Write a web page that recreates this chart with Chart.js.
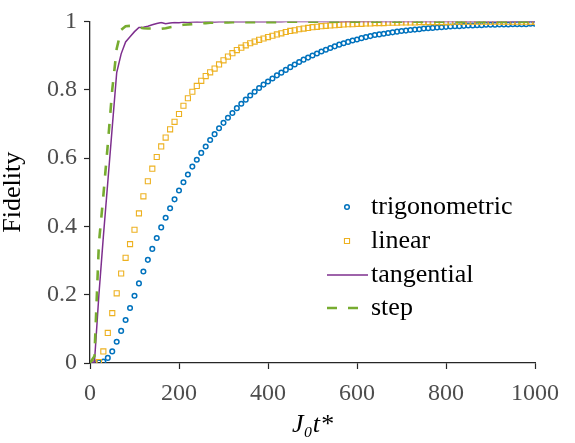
<!DOCTYPE html>
<html>
<head>
<meta charset="utf-8">
<script src="https://cdn.jsdelivr.net/npm/chart.js@4/dist/chart.umd.min.js"></script>
<style>
  html, body { margin: 0; padding: 0; background: #fff; }
  #wrap { width: 575px; height: 443px; }
</style>
</head>
<body>
<div id="wrap"><canvas id="fidelityChart" width="575" height="443"></canvas></div>
<script>
// J0 t* sample times
const times = [
  0, 10, 20, 30, 40, 50, 60, 70, 80, 90,
  100, 110, 120, 130, 140, 150, 160, 170, 180, 190,
  200, 210, 220, 230, 240, 250, 260, 270, 280, 290,
  300, 310, 320, 330, 340, 350, 360, 370, 380, 390,
  400, 410, 420, 430, 440, 450, 460, 470, 480, 490,
  500, 510, 520, 530, 540, 550, 560, 570, 580, 590,
  600, 610, 620, 630, 640, 650, 660, 670, 680, 690,
  700, 710, 720, 730, 740, 750, 760, 770, 780, 790,
  800, 810, 820, 830, 840, 850, 860, 870, 880, 890,
  900, 910, 920, 930, 940, 950, 960, 970, 980, 990, 1000
];

const trigonometric = [
  0, 0.0005, 0.002, 0.004, 0.015, 0.034, 0.062, 0.094, 0.126, 0.161,
  0.197, 0.233, 0.268, 0.302, 0.334, 0.366, 0.397, 0.425, 0.453, 0.479,
  0.505, 0.529, 0.552, 0.575, 0.595, 0.615, 0.634, 0.653, 0.670, 0.687,
  0.703, 0.718, 0.732, 0.746, 0.759, 0.771, 0.783, 0.794, 0.805, 0.815,
  0.824, 0.833, 0.842, 0.850, 0.858, 0.866, 0.874, 0.881, 0.888, 0.894,
  0.900, 0.906, 0.912, 0.917, 0.922, 0.927, 0.932, 0.936, 0.940, 0.944,
  0.947, 0.951, 0.954, 0.957, 0.960, 0.962, 0.964, 0.966, 0.968, 0.970,
  0.972, 0.973, 0.975, 0.976, 0.977, 0.979, 0.980, 0.981, 0.982, 0.983,
  0.984, 0.985, 0.986, 0.986, 0.987, 0.988, 0.988, 0.989, 0.989, 0.990,
  0.990, 0.990, 0.991, 0.991, 0.991, 0.992, 0.992, 0.992, 0.992, 0.993, 0.993
];

const linear = [
  0, 0.0005, 0.003, 0.034, 0.088, 0.146, 0.204, 0.262, 0.308, 0.348,
  0.390, 0.438, 0.488, 0.532, 0.569, 0.603, 0.634, 0.660, 0.684, 0.706,
  0.729, 0.753, 0.775, 0.794, 0.811, 0.826, 0.840, 0.851, 0.862, 0.874,
  0.886, 0.897, 0.907, 0.916, 0.923, 0.930, 0.936, 0.941, 0.946, 0.950,
  0.954, 0.958, 0.962, 0.965, 0.969, 0.972, 0.974, 0.977, 0.979, 0.981,
  0.983, 0.984, 0.986, 0.987, 0.988, 0.989, 0.990, 0.991, 0.992, 0.992,
  0.993, 0.993, 0.994, 0.994, 0.995, 0.995, 0.995, 0.996, 0.996, 0.996,
  0.997, 0.997, 0.997, 0.997, 0.998, 0.998, 0.998, 0.998, 0.998, 0.998,
  0.998, 0.998, 0.999, 0.999, 0.999, 0.999, 0.999, 0.999, 0.999, 0.999,
  0.999, 0.999, 0.999, 0.999, 0.999, 0.999, 0.999, 0.999, 0.999, 0.999, 0.999
];

const tangential = [
  0, 0.002, 0.20, 0.37, 0.53, 0.69, 0.85, 0.905, 0.94, 0.955,
  0.970, 0.982, 0.983, 0.986, 0.990, 0.994, 0.997, 0.993, 0.995, 0.997,
  0.996, 0.998, 0.997, 0.998, 0.999, 0.998, 0.999, 0.999, 0.998, 0.999,
  0.999, 0.999, 0.999, 0.999, 0.999, 0.999, 0.999, 0.999, 0.999, 0.999,
  0.999, 0.999, 0.999, 0.999, 1.000, 1.000, 1.000, 1.000, 1.000, 1.000,
  1.000, 1.000, 1.000, 1.000, 1.000, 1.000, 1.000, 1.000, 1.000, 1.000,
  1.000, 1.000, 1.000, 1.000, 1.000, 1.000, 1.000, 1.000, 1.000, 1.000,
  1.000, 1.000, 1.000, 1.000, 1.000, 1.000, 1.000, 1.000, 1.000, 1.000,
  1.000, 1.000, 1.000, 1.000, 1.000, 1.000, 1.000, 1.000, 1.000, 1.000,
  1.000, 1.000, 1.000, 1.000, 1.000, 1.000, 1.000, 1.000, 1.000, 1.000, 1.000
];

const step = [
  0, 0.02, 0.35, 0.49, 0.64, 0.80, 0.92, 0.975, 0.986, 0.987,
  0.985, 0.982, 0.980, 0.979, 0.979, 0.978, 0.978, 0.980, 0.983, 0.985,
  0.988, 0.990, 0.991, 0.992, 0.993, 0.994, 0.995, 0.996, 0.996, 0.997,
  0.997, 0.997, 0.998, 0.998, 0.998, 0.998, 0.998, 0.998, 0.998, 0.998,
  0.998, 0.998, 0.998, 0.999, 0.999, 0.999, 0.999, 0.999, 0.999, 0.999,
  0.999, 0.999, 0.999, 0.999, 0.999, 0.999, 0.999, 0.999, 0.999, 0.999,
  0.999, 0.999, 0.999, 0.999, 0.999, 0.999, 0.999, 0.999, 0.999, 0.999,
  0.999, 0.999, 0.999, 0.999, 0.999, 0.999, 0.999, 0.999, 0.999, 0.999,
  0.999, 0.999, 0.999, 0.999, 0.999, 0.999, 0.999, 0.999, 0.999, 0.999,
  0.999, 0.999, 0.999, 0.999, 0.999, 0.999, 0.999, 0.999, 0.999, 0.999, 0.999
];

const seriesNames = ['trigonometric', 'linear', 'tangential', 'step'];
const xTicks = [0, 200, 400, 600, 800, 1000];
const yTicks = [0, 0.2, 0.4, 0.6, 0.8, 1];

const pairs = (vals) => times.map((t, i) => ({ x: t, y: vals[i] }));

const SERIF = "'Liberation Serif'";
Chart.defaults.font.family = SERIF;

// legend drawn in the lower right, MATLAB style
const legendPlugin = {
    id: 'matlabLegend',
    afterDatasetsDraw(chart) {
        const ctx = chart.ctx;
        const rows = [207, 241, 275, 308];
        const symX = 347;
        ctx.save();
        chart.data.datasets.forEach((ds, i) => {
            const y = rows[i];
            ctx.strokeStyle = ds.borderColor;
            if (ds.showLine === false) {
                ctx.lineWidth = ds.pointBorderWidth;
                ctx.setLineDash([]);
                ctx.beginPath();
                if (ds.pointStyle === 'circle') {
                    ctx.arc(symX, y, ds.pointRadius, 0, Math.PI * 2);
                } else {
                    const s = ds.pointRadius * Math.SQRT1_2;
                    ctx.rect(symX - s, y - s, 2 * s, 2 * s);
                }
                ctx.stroke();
            } else {
                ctx.lineWidth = ds.borderWidth;
                ctx.setLineDash(ds.borderDash || []);
                ctx.beginPath();
                ctx.moveTo(327, y);
                ctx.lineTo(368, y);
                ctx.stroke();
            }
            ctx.setLineDash([]);
            ctx.fillStyle = '#000';
            ctx.font = "26px 'Liberation Serif'";
            ctx.textBaseline = 'middle';
            ctx.textAlign = 'left';
            ctx.fillText(ds.label, 371, y);
        });
        ctx.restore();
    }
};

const ctx = document.getElementById('fidelityChart').getContext('2d');

new Chart(ctx, {
    type: 'line',
    data: {
        datasets: [{
            label: seriesNames[0],
            data: pairs(trigonometric),
            showLine: false,
            pointStyle: 'circle',
            pointRadius: 2.3,
            pointBorderWidth: 1.5,
            borderColor: '#0072BD',
            backgroundColor: 'rgba(0,0,0,0)',
            order: 4
        }, {
            label: seriesNames[1],
            data: pairs(linear),
            showLine: false,
            pointStyle: 'rect',
            pointRadius: 3.6,
            pointBorderWidth: 1.1,
            borderColor: '#EDB120',
            backgroundColor: 'rgba(0,0,0,0)',
            order: 3
        }, {
            label: seriesNames[2],
            data: pairs(tangential),
            borderColor: '#7E2F8E',
            borderWidth: 1.5,
            pointRadius: 0,
            tension: 0,
            order: 2
        }, {
            label: seriesNames[3],
            data: pairs(step),
            borderColor: '#77AC30',
            borderWidth: 2.6,
            borderDash: [10, 11],
            pointRadius: 0,
            tension: 0,
            order: 1
        }]
    },
    options: {
        responsive: false,
        animation: false,
        layout: {
            padding: { top: 14, right: 40, bottom: 0, left: 0 }
        },
        plugins: {
            legend: { display: false },
            tooltip: { enabled: false }
        },
        scales: {
            x: {
                type: 'linear',
                min: 0,
                max: 1000,
                afterFit: (scale) => { scale.height = 80; },
                afterBuildTicks: (scale) => { scale.ticks = xTicks.map(v => ({ value: v })); },
                grid: {
                    drawOnChartArea: false,
                    tickLength: 6,
                    tickColor: '#262626',
                    tickWidth: 1.2
                },
                border: { color: '#262626', width: 1.3 },
                ticks: {
                    color: '#4d4d4d',
                    padding: 10,
                    maxRotation: 0,
                    font: { family: SERIF, size: 24 },
                    callback: (v) => String(v)
                },
                title: {
                    display: true,
                    text: 'J₀t*',
                    color: '#000',
                    padding: { top: 0, bottom: 2 },
                    font: { family: SERIF, size: 26, style: 'italic', lineHeight: 1.2 }
                }
            },
            y: {
                min: 0,
                max: 1,
                afterFit: (scale) => { scale.width = 90; },
                afterBuildTicks: (scale) => { scale.ticks = yTicks.map(v => ({ value: v })); },
                grid: {
                    drawOnChartArea: false,
                    tickLength: 6,
                    tickColor: '#262626',
                    tickWidth: 1.2
                },
                border: { color: '#262626', width: 1.3 },
                ticks: {
                    color: '#4d4d4d',
                    padding: 7,
                    font: { family: SERIF, size: 24 },
                    callback: (v) => String(Math.round(v * 10) / 10)
                },
                title: {
                    display: true,
                    text: 'Fidelity',
                    color: '#000',
                    padding: { top: 0, bottom: 0 },
                    font: { family: SERIF, size: 26, lineHeight: 1 }
                }
            }
        }
    },
    plugins: [legendPlugin]
});
</script>
</body>
</html>
